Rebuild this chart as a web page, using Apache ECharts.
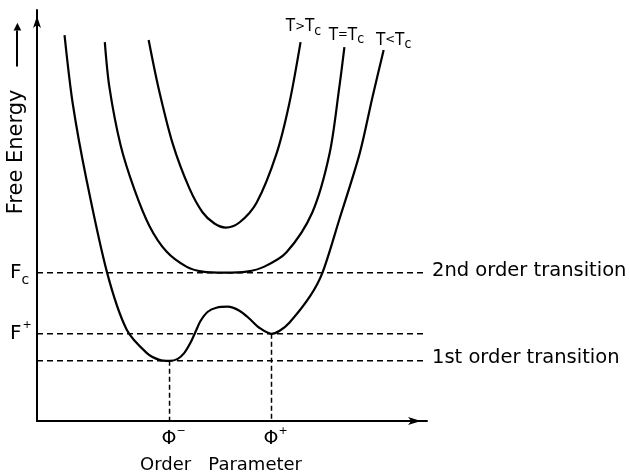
<!DOCTYPE html>
<html>
<head>
<meta charset="utf-8">
<script src="https://cdn.jsdelivr.net/npm/echarts@6/dist/echarts.min.js"></script>
<style>
  html, body { margin: 0; padding: 0; background: #fff; }
  #chart { width: 630px; height: 475px; }
</style>
</head>
<body>
<div id="chart"></div>
<script>
// Order-parameter positions of the two minima below Tc
const PHI_MINUS = -1.0;
const PHI_PLUS = 1.0;
// Reference free-energy levels
const F_C = 14.8;
const F_PLUS = 8.7;
const F_MINUS = 6.0;

// Free energy F(phi) sampled along the order parameter, [phi, F]
const curveAbove = [ // T > Tc
  [-1.41, 38.0], [-1.22, 33.3], [-0.94, 27.7], [-0.61, 23.2], [-0.35, 20.8],
  [-0.12, 19.7], [0.10, 19.3], [0.37, 19.8], [0.71, 21.8], [1.10, 26.7],
  [1.35, 31.7], [1.57, 37.8]
];
const curveAt = [ // T = Tc
  [-2.27, 37.8], [-2.18, 33.3], [-1.96, 27.5], [-1.69, 23.1], [-1.39, 19.4],
  [-1.06, 16.9], [-0.67, 15.4], [-0.35, 14.9], [0.08, 14.8], [0.51, 14.9],
  [0.86, 15.4], [1.29, 16.8], [1.80, 20.8], [2.14, 26.7], [2.33, 33.3],
  [2.43, 37.3]
];
const curveBelow = [ // T < Tc
  [-3.06, 38.5], [-2.90, 31.7], [-2.63, 24.1], [-2.22, 14.7], [-1.84, 9.1],
  [-1.45, 6.8], [-1.20, 6.1], [-1.00, 6.0], [-0.84, 6.2], [-0.71, 6.8],
  [-0.59, 7.8], [-0.49, 8.9], [-0.39, 10.0], [-0.25, 10.9], [-0.08, 11.3],
  [0.14, 11.4], [0.37, 11.0], [0.57, 10.2], [0.76, 9.3], [1.00, 8.7],
  [1.16, 9.0], [1.35, 9.8], [1.75, 12.4], [2.00, 14.8], [2.33, 20.1],
  [2.73, 26.7], [2.98, 32.3], [3.20, 37.0]
];

const curveLabels = ['T>Tc', 'T=Tc', 'T<Tc'];
const levelNotes = ['2nd order transition', '1st order transition'];
const axisTitles = ['Order   Parameter', 'Free Energy'];

// Axis extents
const X_MIN = -3.6, X_MAX = 4.05;
const Y_MIN = 0, Y_MAX = 41;

const INK = '#000';
const FONT = "'DejaVu Sans', 'Liberation Sans', sans-serif";
const NARROW = "'DejaVu Sans Condensed', 'Liberation Sans Narrow', 'DejaVu Sans', sans-serif";

// "T>Tc" -> T, relation sign, T, subscript c
function curveLabelText(txt) {
  return '{a|' + txt[0] + '}{o|' + txt[1] + '}{a|' + txt[2] + '}{s|' + txt.slice(3) + '}';
}
const curveLabelRich = {
  a: { fontFamily: NARROW, fontSize: 17, color: INK },
  o: { fontFamily: NARROW, fontSize: 13, color: INK },
  s: { fontFamily: NARROW, fontSize: 14, color: INK, padding: [8, 0, 0, 0] }
};

function guide(name, pts, dash, note, noteOffset) {
  return {
    type: 'line', name: name, data: pts, symbol: 'none', silent: true, z: 1,
    lineStyle: { color: INK, width: 1.5, type: dash },
    endLabel: note ? {
      show: true, formatter: note, distance: 5, offset: noteOffset,
      color: INK, fontFamily: FONT, fontSize: 19.5
    } : { show: false }
  };
}

function curve(name, pts, label, offset) {
  return {
    type: 'line', name: name, data: pts, smooth: 0.3, symbol: 'none', z: 3,
    lineStyle: { color: INK, width: 2.2 },
    endLabel: {
      show: true, formatter: curveLabelText(label), align: 'center',
      verticalAlign: 'middle', distance: 0, offset: offset, rich: curveLabelRich
    }
  };
}

const chart = echarts.init(document.getElementById('chart'));
chart.setOption({
  animation: false,
  backgroundColor: '#fff',
  grid: { left: 37, right: 203, top: 10, bottom: 54, containLabel: false, outerBoundsMode: 'none' },
  xAxis: {
    type: 'value', min: X_MIN, max: X_MAX,
    splitLine: { show: false }, axisTick: { show: false },
    axisLine: {
      onZero: false, lineStyle: { color: INK, width: 2 },
      symbol: ['none', 'arrow'], symbolSize: [6, 13], symbolOffset: [0, -6]
    },
    axisLabel: {
      customValues: [PHI_MINUS, PHI_PLUS],
      formatter: function (v) { return '{p|Φ}{s|' + (v === PHI_MINUS ? '−' : '+') + '}'; },
      margin: 8,
      rich: {
        p: { fontFamily: FONT, fontSize: 19, lineHeight: 20, color: INK, padding: [0, 0, 0, 8] },
        s: { fontFamily: FONT, fontSize: 11, lineHeight: 11, color: INK, padding: [0, 0, 16, 0] }
      }
    },
    name: axisTitles[0], nameLocation: 'middle', nameGap: 35, nameMoveOverlap: false,
    nameTextStyle: { fontFamily: FONT, fontSize: 18, color: INK, padding: [0, 22, 0, 0] }
  },
  yAxis: {
    type: 'value', min: Y_MIN, max: Y_MAX,
    splitLine: { show: false }, axisTick: { show: false },
    axisLine: {
      show: true, onZero: false, lineStyle: { color: INK, width: 2 },
      symbol: ['none', 'arrow'], symbolSize: [6, 12], symbolOffset: [0, -6]
    },
    axisLabel: {
      customValues: [F_MINUS, F_PLUS, F_C],
      formatter: function (v) {
        if (v === F_C) return '{f|F}{b|c}';
        return '{f|F}{t|' + (v === F_PLUS ? '+' : '−') + '}';
      },
      align: 'left', margin: 27,
      rich: {
        f: { fontFamily: FONT, fontSize: 20, lineHeight: 20, color: INK },
        b: { fontFamily: FONT, fontSize: 14, lineHeight: 14, color: INK, padding: [16, 0, 0, 0] },
        t: { fontFamily: FONT, fontSize: 11, lineHeight: 11, color: INK, padding: [0, 0, 18, 1] }
      }
    },
    name: '{t|' + axisTitles[1] + '}{g| }{l| }{h|▶}',
    nameLocation: 'middle', nameRotate: 90, nameGap: 9, nameMoveOverlap: false,
    nameTextStyle: {
      padding: [0, 0, 0, 194],
      rich: {
        t: { fontFamily: FONT, fontSize: 21, lineHeight: 22, color: INK },
        g: { width: 23, fontSize: 10 },
        l: { width: 36, height: 2, lineHeight: 2, fontSize: 2, backgroundColor: INK },
        h: { fontFamily: FONT, fontSize: 10, color: INK }
      }
    }
  },
  series: [
    guide('Fc level', [[X_MIN, F_C], [X_MAX, F_C]], [6, 4], levelNotes[0], [0, -2]),
    guide('F+ level', [[X_MIN, F_PLUS], [X_MAX, F_PLUS]], [6, 4]),
    guide('F- level', [[X_MIN, F_MINUS], [X_MAX, F_MINUS]], [6, 4], levelNotes[1], [0, -3]),
    guide('phi- drop', [[PHI_MINUS, F_MINUS], [PHI_MINUS, Y_MIN]], [5, 3]),
    guide('phi+ drop', [[PHI_PLUS, F_PLUS], [PHI_PLUS, Y_MIN]], [5, 3]),
    curve('T>Tc', curveAbove, curveLabels[0], [3, -15]),
    curve('T=Tc', curveAt, curveLabels[1], [2, -12]),
    curve('T<Tc', curveBelow, curveLabels[2], [10, -10])
  ]
});
</script>
</body>
</html>
